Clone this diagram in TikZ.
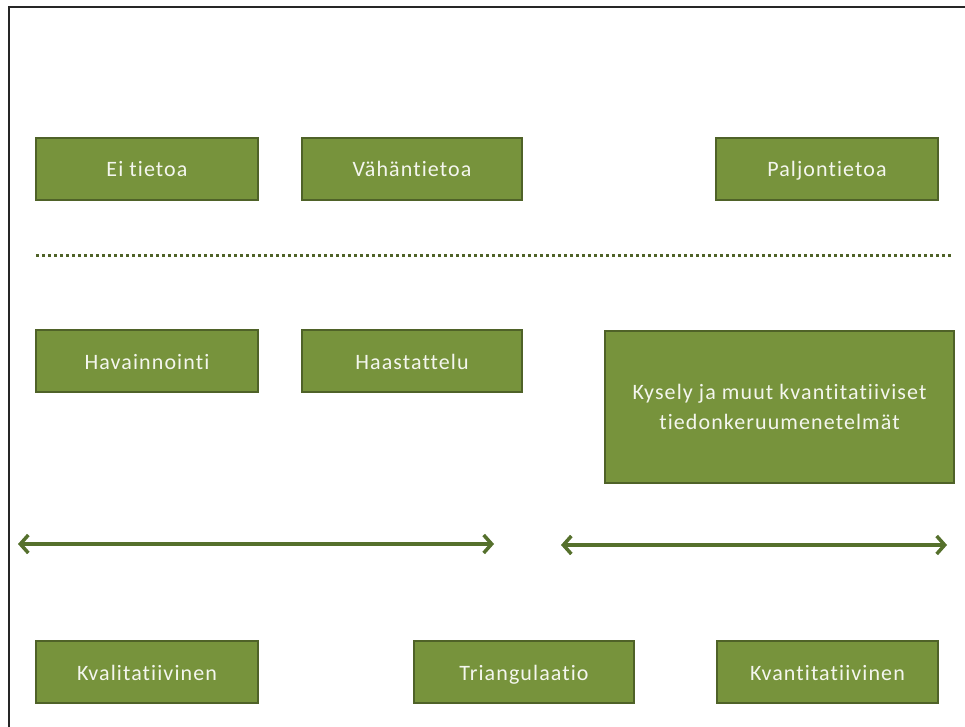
\documentclass[tikz,border=0pt]{standalone}
\usepackage{fontspec}
\setmainfont{Carlito}[Ligatures={NoCommon,NoContextual},LetterSpace=5]
\usetikzlibrary{arrows.meta}
\definecolor{olivefill}{HTML}{77933C}
\definecolor{olivedark}{HTML}{4F6228}
\definecolor{olivearrow}{HTML}{55702C}
\definecolor{boxtext}{HTML}{F4F6EE}
\begin{document}
\begin{tikzpicture}[x=1pt,y=-1pt,
  greenbox/.style={draw=olivedark,line width=1.6pt,fill=olivefill,
    text=boxtext,font=\fontsize{22}{30}\selectfont,align=center,
    inner sep=0pt,outer sep=0pt},
  oneline/.style={text height=18pt,text depth=2pt},
  spanarrow/.style={draw=olivearrow,line width=3.5pt,
    {Straight Barb[length=8pt,width=18pt,line width=3.5pt]}-{Straight Barb[length=8pt,width=18pt,line width=3.5pt]}},
  dotline/.style={draw=olivedark,line width=3pt,dash pattern=on 3pt off 3pt}]
\useasboundingbox (0,0) rectangle (965,727);
% frame edges
\draw[line width=1.5pt,black!85] (9,727) -- (9,7) -- (965,7);

% top row: amount of prior knowledge
\node[greenbox,oneline,minimum width=222pt,minimum height=62pt] (ei) at (147,169) {Ei tietoa};
\node[greenbox,oneline,minimum width=220pt,minimum height=62pt] (vahan) at (412,169) {Vähäntietoa};
\node[greenbox,oneline,minimum width=222pt,minimum height=62pt] (paljon) at (827,169) {Paljontietoa};

% separator
\coordinate (sepL) at (36,255);
\coordinate (sepR) at (953,255);
\draw[dotline] (sepL) -- (sepR);

% middle row: data collection methods
\node[greenbox,oneline,minimum width=222pt,minimum height=62pt] (hav) at (147,361) {Havainnointi};
\node[greenbox,oneline,minimum width=220pt,minimum height=62pt] (haas) at (412,361) {Haastattelu};
\node[greenbox,minimum width=349pt,minimum height=152pt,text depth=0pt] (kysely) at (779.5,407)
  {Kysely ja muut kvantitatiiviset\\tiedonkeruumenetelmät};

% spans
\coordinate (a1L) at (18,544);
\coordinate (a1R) at (494,544);
\coordinate (a2L) at (561,545);
\coordinate (a2R) at (947,545);
\draw[spanarrow] (a1L) -- (a1R);
\draw[spanarrow] (a2L) -- (a2R);

% bottom row: approaches
\node[greenbox,oneline,minimum width=222pt,minimum height=62pt] (kval) at (147,672) {Kvalitatiivinen};
\node[greenbox,oneline,minimum width=220pt,minimum height=62pt] (tri) at (524,672) {Triangulaatio};
\node[greenbox,oneline,minimum width=221pt,minimum height=62pt] (kvant) at (827.5,672) {Kvantitatiivinen};
\end{tikzpicture}
\end{document}
